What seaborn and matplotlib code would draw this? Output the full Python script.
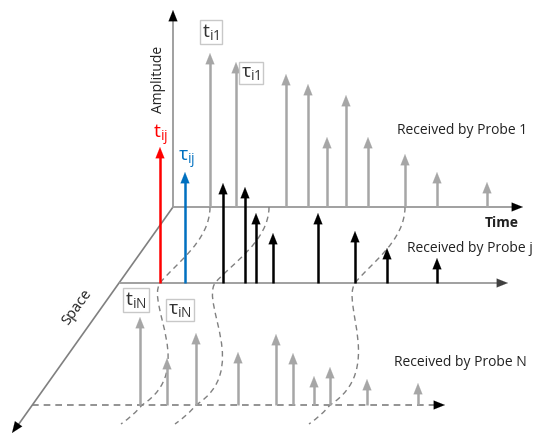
"""
Pulse arrival diagram: amplitude vs time for probes 1, j and N
"""
import numpy as np
import matplotlib
matplotlib.use('Agg')
import matplotlib.pyplot as plt
from matplotlib.path import Path
from matplotlib.patches import PathPatch
import seaborn as sns

# baselines (diagram units, y grows downward)
base_1 = 207
base_j = 283
base_n = 405

# probe 1 pulses (gray)
probe1_times = [210, 236, 286, 308, 327, 346, 368, 405, 437, 487]
probe1_amps = [154, 145, 133, 123, 70, 112, 70, 53, 35, 25]

# probe j pulses (black)
probej_times = [223, 245, 256, 273, 318, 355, 387, 437]
probej_amps = [100, 96, 70, 50, 70, 52, 35, 25]

# probe N pulses (gray)
proben_times = [140, 167, 196, 238, 276, 293, 314, 330, 367, 418]
proben_amps = [88, 47, 72, 53, 71, 52, 29, 38, 26, 22]

# highlighted arrivals at probe j
t_ij = (160, 136)
tau_ij = (185, 111)

# dashed wavefronts: crossing of probe 1, probe j, probe N lines
front_p1 = [210, 269, 405]
front_pj = [160, 215, 355]
front_pn = [142, 196, 330]

GRAY = '#a6a6a6'
AXIS = '#a0a0a0'
HEAD = '-|>,head_length=0.8,head_width=0.32'

sns.set_theme(style='white')
plt.rcParams['font.family'] = ['Open Sans', 'DejaVu Sans']
plt.rcParams['mathtext.fontset'] = 'custom'
plt.rcParams['mathtext.rm'] = 'Open Sans'

fig = plt.figure(figsize=(5.34, 4.37), dpi=100)
ax = fig.add_axes([0, 0, 1, 1])
ax.set_xlim(0, 534)
ax.set_ylim(437, 0)
ax.axis('off')


def arrow(x0, y0, x1, y1, color='black'):
    ax.annotate('', xy=(x1, y1), xytext=(x0, y0),
                arrowprops=dict(arrowstyle=HEAD, color=color, lw=0.1,
                                shrinkA=0, shrinkB=0, mutation_scale=10),
                zorder=3)


def pulse(x, base, amp, color):
    ax.plot([x, x], [base, base - amp + 6], color=color, lw=1.8, zorder=3,
            solid_capstyle='butt')
    arrow(x, base - amp + 8, x, base - amp, color)


# axes of the diagram
ax.plot([173, 173], [base_1, 18], color=AXIS, lw=1.4, zorder=1)
arrow(173, 20, 173, 10)
ax.plot([173, 16], [base_1, 428], color='#808080', lw=1.2, zorder=1)
arrow(17, 426, 12, 433)

ax.plot([173, 514], [base_1, base_1], color=AXIS, lw=1.4, zorder=1)
arrow(512, base_1, 523, base_1)
ax.plot([120, 500], [base_j, base_j], color=AXIS, lw=1.4, zorder=1)
arrow(498, base_j, 508, base_j, '#404040')
ax.plot([32, 437], [base_n, base_n], color='#808080', lw=1.2,
        dashes=(4, 3), zorder=1)
arrow(436, base_n, 445, base_n)

# pulses
for x, a in zip(probe1_times, probe1_amps):
    pulse(x, base_1, a, GRAY)
for x, a in zip(probej_times, probej_amps):
    pulse(x, base_j, a, 'black')
for x, a in zip(proben_times, proben_amps):
    pulse(x, base_n, a, GRAY)
pulse(t_ij[0], base_j, t_ij[1], '#ff0000')
pulse(tau_ij[0], base_j, tau_ij[1], '#0070c0')

# dashed wavefronts
for x1, xj, xn in zip(front_p1, front_pj, front_pn):
    dx = x1 - xj
    verts = [(x1, base_1), (x1, base_1 + 34), (xj + 0.3 * dx, base_j - 19), (xj, base_j),
             (xj - 14, base_j + 22), (xn + 55, base_n - 35), (xn, base_n),
             (xn - 8, base_n + 10), (xn - 21, base_n + 19)]
    codes = [Path.MOVETO] + [Path.CURVE4] * 6 + [Path.CURVE3] * 2
    ax.add_patch(PathPatch(Path(verts, codes), fill=False, ec='#808080',
                           lw=1.0, ls=(0, (4, 3)), zorder=2))

# labels
box = dict(boxstyle='square,pad=0.12', fc='white', ec='#c8c8c8', lw=1)
ax.text(211, 32, r'$\mathregular{t_{i1}}$', fontsize=14, color='#333333',
        ha='center', va='center', bbox=box, zorder=5)
ax.text(251, 73, r'$\mathregular{τ_{i1}}$', fontsize=14, color='#333333',
        ha='center', va='center', bbox=box, zorder=5)
ax.text(136, 300, r'$\mathregular{t_{iN}}$', fontsize=14, color='#333333',
        ha='center', va='center', bbox=box, zorder=5)
ax.text(180, 310, r'$\mathregular{τ_{iN}}$', fontsize=14, color='#333333',
        ha='center', va='center', bbox=box, zorder=5)
ax.text(161, 135, r'$\mathregular{t_{ij}}$', fontsize=14, color='#ff0000',
        ha='center', va='center', zorder=5)
ax.text(187, 160, r'$\mathregular{τ_{ij}}$', fontsize=14, color='#0070c0',
        ha='center', va='center', zorder=5)

ax.text(159, 79, 'Amplitude', fontsize=10, rotation=90, ha='center',
        va='center', color='#222222')
ax.text(77, 307, 'Space', fontsize=10.5, rotation=54, ha='center',
        va='center', color='#222222')
ax.text(502, 223, 'Time', fontsize=10, fontweight='bold', ha='center',
        va='center', color='#222222')
ax.text(462, 130, 'Received by Probe 1', fontsize=10, ha='center',
        va='center', color='#222222')
ax.text(470, 248, 'Received by Probe j', fontsize=10, ha='center',
        va='center', color='#222222')
ax.text(460, 362, 'Received by Probe N', fontsize=10, ha='center',
        va='center', color='#222222')

fig.savefig('out.png', dpi=100)
plt.close(fig)
